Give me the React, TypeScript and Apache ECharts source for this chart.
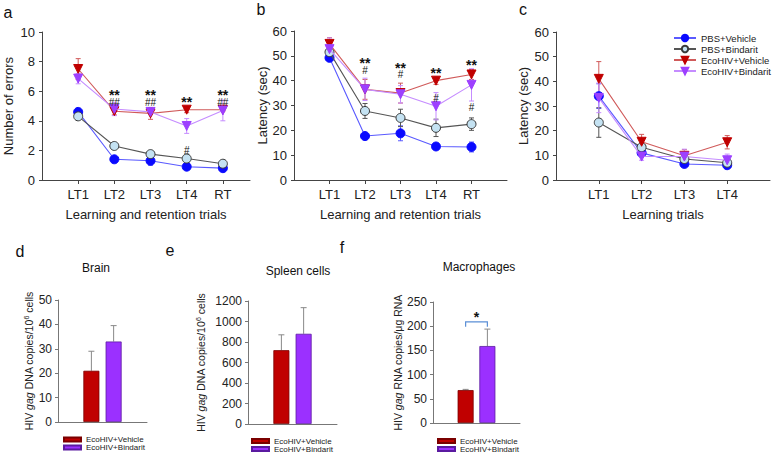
import React, { useEffect, useRef } from 'react';
import * as echarts from 'echarts';

const FONT = '"Liberation Sans", Arial, Helvetica, sans-serif';

// ---------- categories ----------
const trialsAB = ['LT1', 'LT2', 'LT3', 'LT4', 'RT'];
const trialsC = ['LT1', 'LT2', 'LT3', 'LT4'];
const groupNames = ['PBS+Vehicle', 'PBS+Bindarit', 'EcoHIV+Vehicle', 'EcoHIV+Bindarit'];
const barGroups = ['EcoHIV+Vehicle', 'EcoHIV+Bindarit'];

// ---------- panel a: number of errors ----------
const errPbsVeh = [4.6, 1.4, 1.3, 0.9, 0.8];
const errPbsVehSE = [0.1, 0.1, 0.3, 0.1, 0.1];
const errPbsBin = [4.3, 2.3, 1.75, 1.45, 1.1];
const errPbsBinSE = [0.1, 0.2, 0.2, 0.3, 0.2];
const errEcoVeh = [7.5, 4.65, 4.5, 4.75, 4.75];
const errEcoVehSE = [0.7, 0.25, 0.4, 0.2, 0.1];
const errEcoBin = [6.85, 4.8, 4.6, 3.65, 4.7];
const errEcoBinSE = [0.35, 0.45, 0.2, 0.5, 0.7];

// ---------- panel b: latency, learning & retention ----------
const latPbsVeh = [49.2, 17.7, 18.8, 13.5, 13.3];
const latPbsVehSE = [1, 0.5, 3, 1, 2];
const latPbsBin = [51.5, 27.8, 25, 21, 22.5];
const latPbsBinSE = [1.5, 3, 3.5, 3.5, 2.5];
const latEcoVeh = [54.8, 36.5, 35, 40, 42.5];
const latEcoVehSE = [2.5, 4, 4, 1.5, 2];
const latEcoBin = [52.7, 36.5, 34.5, 29.7, 38.3];
const latEcoBinSE = [4.5, 4.5, 3.5, 5.5, 6.5];

// ---------- panel c: latency, learning ----------
const lat2PbsVeh = [34, 11, 6.5, 6];
const lat2PbsVehSE = [5, 1.5, 1, 1];
const lat2PbsBin = [23.3, 13.3, 8.5, 7];
const lat2PbsBinSE = [6, 1.5, 1.5, 1];
const lat2EcoVeh = [41, 15.5, 9.8, 15.3];
const lat2EcoVehSE = [7, 3, 2.5, 2.7];
const lat2EcoBin = [33.3, 9.5, 9.5, 8];
const lat2EcoBinSE = [6, 1.5, 3, 2.5];

// ---------- significance marks (trial number, value, stars, hashes) ----------
const sigA = [
  [2, 5.5, '**', '##'],
  [3, 5.5, '**', '##'],
  [4, 5.4, '**', ''], [4, 2.0, '', '#'],
  [5, 5.5, '**', '##'],
];
const sigB = [
  [2, 45.7, '**', '#'],
  [3, 43.8, '**', '#'],
  [4, 44, '**', ''], [4, 33, '', '#'],
  [5, 47, '**', ''], [5, 29.3, '', '#'],
];

// ---------- panels d-f: HIV gag copies ----------
const brainCopies = [21, 33];
const brainSE = [8, 6.5];
const spleenCopies = [720, 880];
const spleenSE = [150, 255];
const macroCopies = [68, 159];
const macroSE = [1.5, 35];
const macroSig = [1, 2, 209, '*']; // from bar, to bar, bracket value, text

const groupStyle = [
  { line: '#5a5aff', fill: '#0a0aff', border: '#0a0aff', symbol: 'circle', rotate: 0, size: 9 },
  { line: '#555555', fill: '#c4e2f2', border: '#3a3a3a', symbol: 'circle', rotate: 0, size: 9 },
  { line: '#d05a5a', fill: '#c00000', border: '#c00000', symbol: 'triangle', rotate: 180, size: 9 },
  { line: '#c58cff', fill: '#9d40ff', border: '#9d40ff', symbol: 'triangle', rotate: 180, size: 9 },
];

const barStyle = [
  { fill: '#c00000', border: '#7a0000' },
  { fill: '#9b30ff', border: '#5a1aa0' },
];

const errBarRender = (color: string, cap: number, both: boolean) => (params: any, api: any) => {
  const x = api.value(0);
  const y = api.value(1);
  const e = api.value(2);
  const top = api.coord([x, y + e]);
  const bot = api.coord([x, both ? y - e : y]);
  const st = { stroke: color, lineWidth: 1 };
  const children: any[] = [
    { type: 'line', shape: { x1: top[0], y1: top[1], x2: bot[0], y2: bot[1] }, style: st },
    { type: 'line', shape: { x1: top[0] - cap, y1: top[1], x2: top[0] + cap, y2: top[1] }, style: st },
  ];
  if (both) children.push({ type: 'line', shape: { x1: bot[0] - cap, y1: bot[1], x2: bot[0] + cap, y2: bot[1] }, style: st });
  return { type: 'group', children };
};

const sigRich = {
  s: { fontSize: 14, fontWeight: 'bold', fontFamily: FONT, color: '#111', lineHeight: 7, align: 'center' },
  h: { fontSize: 10, fontFamily: FONT, color: '#111', lineHeight: 7, align: 'center' },
};

const sigRender = (list: any[]) => (params: any, api: any) => {
  const item = list[params.dataIndex];
  const p = api.coord([item[0], item[1]]);
  const parts: string[] = [];
  if (item[2]) parts.push('{s|' + item[2] + '}');
  if (item[3]) parts.push('{h|' + item[3] + '}');
  const onlyStar = item[2] && !item[3];
  return {
    type: 'text',
    x: p[0],
    y: p[1] + (onlyStar ? 2 : 0),
    style: {
      text: parts.join('\n'),
      rich: sigRich,
      fill: '#111',
      fontFamily: FONT,
      align: 'center',
      verticalAlign: 'middle',
      textAlign: 'center',
      textVerticalAlign: 'middle',
    },
  };
};

export default function App() {
  const ref = useRef<HTMLDivElement>(null);

  useEffect(() => {
    if (!ref.current) return;
    const chart = echarts.init(ref.current, undefined, { renderer: 'svg' });

    const lineVals = [
      [errPbsVeh, errPbsBin, errEcoVeh, errEcoBin],
      [latPbsVeh, latPbsBin, latEcoVeh, latEcoBin],
      [lat2PbsVeh, lat2PbsBin, lat2EcoVeh, lat2EcoBin],
    ];
    const lineErrs = [
      [errPbsVehSE, errPbsBinSE, errEcoVehSE, errEcoBinSE],
      [latPbsVehSE, latPbsBinSE, latEcoVehSE, latEcoBinSE],
      [lat2PbsVehSE, lat2PbsBinSE, lat2EcoVehSE, lat2EcoBinSE],
    ];
    const lineCats = [trialsAB, trialsAB, trialsC];

    const grids = [
      { left: 42, top: 32, width: 208, height: 148 },
      { left: 294, top: 31, width: 213, height: 149 },
      { left: 556, top: 32, width: 214, height: 148 },
      { left: 58, top: 300, width: 89, height: 122 },
      { left: 248, top: 301, width: 89, height: 123 },
      { left: 433, top: 302, width: 87, height: 121 },
    ];

    const axisLine = { lineStyle: { color: '#444', width: 1 } };
    const labelStyle = { color: '#222', fontSize: 13, fontFamily: FONT };

    const xAxes: any[] = [];
    const yAxes: any[] = [];
    const xMax = [5.75, 6, 5];
    const xNames = ['Learning and retention trials', 'Learning and retention trials', 'Learning trials'];
    const yNames = ['Number of errors', 'Latency (sec)', 'Latency (sec)'];
    const yMax = [10, 60, 60];
    const yInt = [2, 10, 10];
    const yGap = [27, 25, 26.5];

    for (let k = 0; k < 3; k++) {
      const cats = lineCats[k];
      const ticks = cats.map((_, i) => i + 1);
      xAxes.push({
        type: 'value', gridIndex: k, min: 0, max: xMax[k], interval: 1,
        splitLine: { show: false }, axisLine,
        axisTick: { show: true, length: 4, customValues: ticks, lineStyle: { color: '#444' } },
        axisLabel: { ...labelStyle, margin: 8, customValues: ticks, formatter: (v: number) => cats[Math.round(v) - 1] ?? '' },
        name: xNames[k], nameLocation: 'middle', nameGap: 28,
        nameTextStyle: { color: '#222', fontSize: 13, fontFamily: FONT },
      });
      yAxes.push({
        type: 'value', gridIndex: k, min: 0, max: yMax[k], interval: yInt[k],
        splitLine: { show: false }, axisLine: { show: true, ...axisLine },
        axisTick: { show: true, length: 3, lineStyle: { color: '#444' } },
        axisLabel: { ...labelStyle, margin: 7 },
        name: yNames[k], nameLocation: 'middle', nameGap: yGap[k], nameRotate: 90,
        nameTextStyle: { color: '#222', fontSize: 13, fontFamily: FONT },
      });
    }

    const bottomVals = [brainCopies, spleenCopies, macroCopies];
    const bottomErrs = [brainSE, spleenSE, macroSE];
    const bottomMax = [50, 1200, 250];
    const bottomInt = [10, 200, 50];
    const bottomGap = [20.5, 41, 29];
    const bottomYNames = [
      '{n|HIV }{i|gag}{n| DNA copies/10}{s|6}{n| cells}',
      '{n|HIV }{i|gag}{n| DNA copies/10}{s|6}{n| cells}',
      '{n|HIV }{i|gag}{n| RNA copies/μg RNA}',
    ];
    const bottomCats = ['', barGroups[0], barGroups[1], ''];
    const rich = {
      n: { fontSize: 10.5, fontFamily: FONT, color: '#222', lineHeight: 12 },
      i: { fontSize: 10.5, fontFamily: FONT, color: '#222', fontStyle: 'italic', lineHeight: 12 },
      s: { fontSize: 7, fontFamily: FONT, color: '#222', verticalAlign: 'top', lineHeight: 12 },
    };
    for (let b = 0; b < 3; b++) {
      const g = b + 3;
      xAxes.push({
        type: 'category', gridIndex: g, data: bottomCats,
        axisLine: { lineStyle: { color: '#777' } }, axisTick: { show: false }, axisLabel: { show: false },
      });
      yAxes.push({
        type: 'value', gridIndex: g, min: 0, max: bottomMax[b], interval: bottomInt[b],
        splitLine: { show: false }, axisLine: { show: true, lineStyle: { color: '#777' } },
        axisTick: { show: true, length: 3, lineStyle: { color: '#777' } },
        axisLabel: { color: '#222', fontSize: 12, fontFamily: FONT, margin: 6, formatter: (v: number) => String(v) },
        name: bottomYNames[b], nameLocation: 'middle', nameGap: bottomGap[b], nameRotate: 90,
        nameTextStyle: { rich },
      });
    }

    const series: any[] = [];
    for (let k = 0; k < 3; k++) {
      for (let gi = 0; gi < 4; gi++) {
        const st = groupStyle[gi];
        series.push({
          type: 'custom', xAxisIndex: k, yAxisIndex: k, z: 1, silent: true,
          renderItem: errBarRender(st.line, 2.5, true),
          encode: { x: 0, y: 1 },
          data: lineVals[k][gi].map((v, i) => [i + 1, v, lineErrs[k][gi][i]]),
        });
      }
      for (let gi = 0; gi < 4; gi++) {
        const st = groupStyle[gi];
        series.push({
          type: 'line', name: groupNames[gi], xAxisIndex: k, yAxisIndex: k, z: 2 + gi,
          data: lineVals[k][gi].map((v, i) => [i + 1, v]),
          symbol: st.symbol, symbolRotate: st.rotate, symbolSize: st.size, showSymbol: true,
          lineStyle: { color: st.line, width: 1.1 },
          itemStyle: { color: st.fill, borderColor: st.border, borderWidth: 1 },
        });
      }
    }
    const sigs = [sigA, sigB];
    for (let k = 0; k < 2; k++) {
      series.push({
        type: 'custom', xAxisIndex: k, yAxisIndex: k, z: 10, silent: true,
        renderItem: sigRender(sigs[k]), encode: { x: 0, y: 1 },
        data: sigs[k].map((s) => [s[0], s[1]]),
      });
    }

    const legendMap: Record<string, string> = {};
    const letters = ['d', 'e', 'f'];
    for (let b = 0; b < 3; b++) {
      const g = b + 3;
      for (let j = 0; j < 2; j++) {
        const nm = letters[b] + '-' + j;
        legendMap[nm] = barGroups[j];
        const data = bottomCats.map((_, ci) => (ci === j + 1 ? bottomVals[b][j] : '-'));
        series.push({
          type: 'bar', name: nm, xAxisIndex: g, yAxisIndex: g, stack: 'st' + b, barWidth: 16, z: 2,
          data,
          itemStyle: { color: barStyle[j].fill, borderColor: barStyle[j].border, borderWidth: 0.8 },
        });
      }
      series.push({
        type: 'custom', xAxisIndex: g, yAxisIndex: g, z: 1, silent: true,
        renderItem: errBarRender('#888', 3, false), encode: { x: 0, y: 1 },
        data: bottomVals[b].map((v, j) => [j + 1, v, bottomErrs[b][j]]),
      });
    }
    // significance bracket, panel f
    series.push({
      type: 'custom', xAxisIndex: 5, yAxisIndex: 5, z: 5, silent: true,
      encode: { x: 0, y: 1 },
      data: [[macroSig[0], macroSig[2]]],
      renderItem: (params: any, api: any) => {
        const y = macroSig[2] as number;
        const p1 = api.coord([macroSig[0], y - 10]);
        const p2 = api.coord([macroSig[0], y]);
        const p3 = api.coord([macroSig[1], y]);
        const p4 = api.coord([macroSig[1], y - 10]);
        return {
          type: 'group',
          children: [
            { type: 'polyline', shape: { points: [p1, p2, p3, p4] }, style: { stroke: '#5b8fd6', lineWidth: 1.2, fill: 'none' } },
            {
              type: 'text', x: (p2[0] + p3[0]) / 2, y: p2[1] - 5,
              style: { text: macroSig[3], fill: '#111', fontSize: 14, fontWeight: 'bold', fontFamily: FONT, align: 'center', verticalAlign: 'middle', textAlign: 'center', textVerticalAlign: 'middle' },
            },
          ],
        };
      },
    });

    const bottomLegendLeft = [63, 251, 437];
    const bottomLegendTop = [435.5, 437, 437];
    const legends: any[] = [
      {
        data: groupNames, left: 673, top: 33, orient: 'vertical', selectedMode: false, padding: 0,
        itemWidth: 22, itemHeight: 8, itemGap: 1, height: 60,
        textStyle: { fontSize: 9.5, fontFamily: FONT, color: '#222', lineHeight: 10 },
      },
    ];
    for (let b = 0; b < 3; b++) {
      legends.push({
        data: [letters[b] + '-0', letters[b] + '-1'], left: bottomLegendLeft[b], top: bottomLegendTop[b],
        orient: 'vertical', selectedMode: false, icon: 'rect', padding: 0, height: 24, width: 100,
        itemWidth: 17, itemHeight: 4, itemGap: 0,
        formatter: (n: string) => legendMap[n],
        textStyle: { fontSize: 8, fontFamily: FONT, color: '#222', lineHeight: 7.2 },
      });
    }

    const txt = (text: string, x: number, y: number, size: number) => ({
      type: 'text', x, y, silent: true,
      style: { text, fill: '#111', fontSize: size, fontFamily: FONT, align: 'center', verticalAlign: 'middle', textAlign: 'center', textVerticalAlign: 'middle' },
    });

    chart.setOption({
      animation: false,
      backgroundColor: '#ffffff',
      grid: grids,
      xAxis: xAxes,
      yAxis: yAxes,
      legend: legends,
      series,
      graphic: [
        txt('a', 8, 12.5, 16),
        txt('b', 261, 9.5, 16),
        txt('c', 523, 9.5, 16),
        txt('d', 20, 251.4, 16),
        txt('e', 170, 250.4, 16),
        txt('f', 342, 247.4, 16),
        txt('Brain', 96, 268, 12),
        txt('Spleen cells', 298, 271, 12),
        txt('Macrophages', 479, 267, 12),
      ],
    });
    return () => chart.dispose();
  }, []);

  return <div ref={ref} style={{ position: 'absolute', left: 0, top: 0, width: 778, height: 462, background: '#fff' }} />;
}
